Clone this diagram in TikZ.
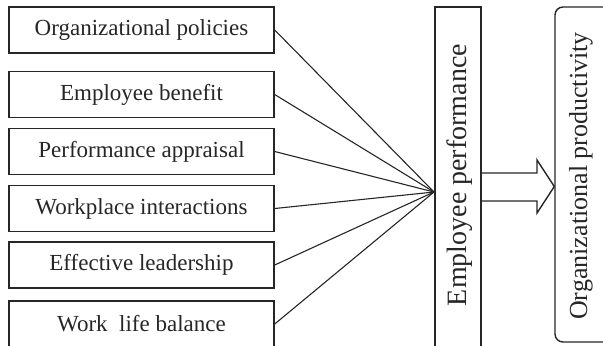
\documentclass[tikz,border=0pt]{standalone}
\usepackage{fontspec}
\setmainfont{Liberation Serif}
\begin{document}
\begin{tikzpicture}[x=0.5pt,y=-0.5pt,
  line/.style={draw=black!85,line width=0.7pt},
  leftbox/.style={line,minimum width=132.5pt,minimum height=23pt,inner sep=0pt,font=\fontsize{11.5}{13}\selectfont,text=black!85},
  conn/.style={draw=black!85,line width=0.55pt}]
\useasboundingbox (0,0) rectangle (603,345);
\clip (0,0) rectangle (603,345);
\node[leftbox] (b1) at (141.5,30) {Organizational policies};
\node[leftbox] (b2) at (141.5,94.5) {Employee benefit};
\node[leftbox] (b3) at (141.5,151.5) {Performance appraisal};
\node[leftbox] (b4) at (141.5,208.5) {Workplace interactions};
\node[leftbox] (b5) at (141.5,265) {Effective leadership};
\node[leftbox] (b6) at (141.5,324) {Work\ \ life balance};
\node[line,minimum width=23pt,minimum height=172pt,inner sep=0pt] (ep) at (458,179) {};
\node[rotate=90,font=\fontsize{14}{16}\selectfont,text=black!85] (ept) at (460,175) {Employee performance};
\node[line,rounded corners=4pt,minimum width=31pt,minimum height=167.5pt,inner sep=0pt] (op) at (586,174.5) {};
\node[rotate=90,font=\fontsize{13}{15}\selectfont,text=black!85] (opt) at (581,176) {Organizational productivity};
\coordinate (hub) at (434,192);
\foreach \b in {b1,b2,b3,b4,b5,b6} \draw[conn] (\b.east) -- (hub);
\draw[line,line join=miter] (ep.east |- 0,173) -- (537,173) -- (537,160) -- (op.west |- 0,186.5) -- (537,213) -- (537,201) -- (ep.east |- 0,201);
\end{tikzpicture}
\end{document}
